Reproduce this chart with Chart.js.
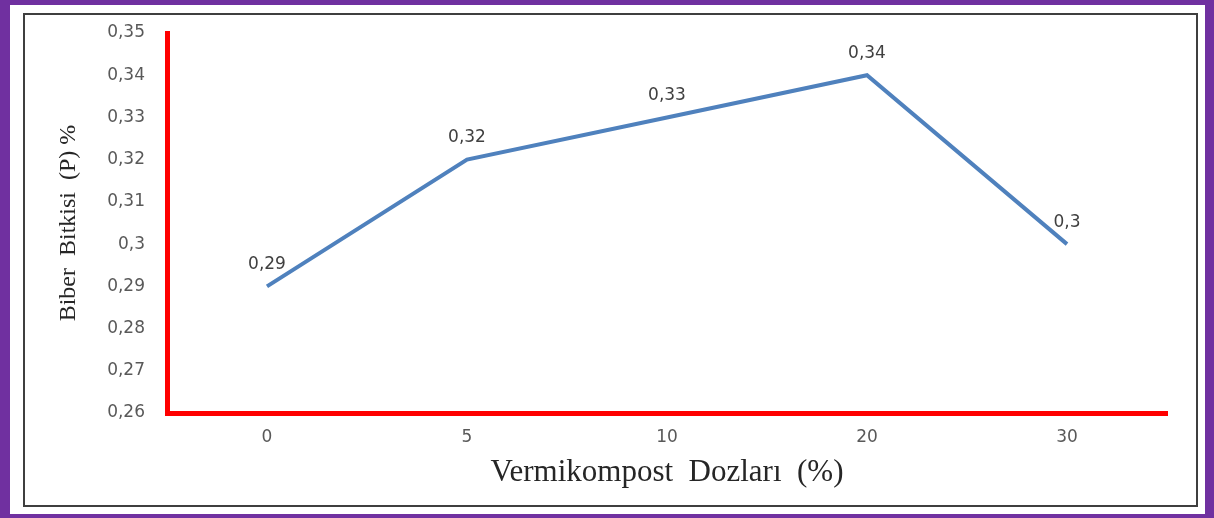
<!DOCTYPE html>
<html>
<head>
<meta charset="utf-8">
<script src="https://cdn.jsdelivr.net/npm/chart.js@4/dist/chart.umd.min.js"></script>
<style>
  body { margin: 0; background: #fff; }
  #frame { position: absolute; left: 0; top: 0; width: 1214px; height: 518px; box-sizing: border-box;
           border-style: solid; border-color: #7030A0; border-width: 5px 9px 4px 10px; }
  #box { position: absolute; left: 23px; top: 13px; width: 1175px; height: 494px; box-sizing: border-box;
         border: 2px solid #3f3f3f; }
  #chart { position: absolute; left: 0; top: 0; }
</style>
</head>
<body>
<div id="frame"></div>
<div id="box"></div>
<canvas id="chart" width="1214" height="518"></canvas>
<script>
var doses = ["0", "5", "10", "20", "30"];
var phosphorus = [0.29, 0.32, 0.33, 0.34, 0.3];
var yTickLabels = ["0,26", "0,27", "0,28", "0,29", "0,3", "0,31", "0,32", "0,33", "0,34", "0,35"];

var valueLabels = {
  id: "valueLabels",
  afterDatasetsDraw: function(chart) {
    var ctx = chart.ctx;
    var meta = chart.getDatasetMeta(0);
    ctx.save();
    ctx.font = "17px 'DejaVu Sans'";
    ctx.fillStyle = "#404040";
    ctx.textAlign = "center";
    ctx.textBaseline = "middle";
    meta.data.forEach(function(pt, i) {
      ctx.fillText(String(phosphorus[i]).replace(".", ","), pt.x, pt.y - 22);
    });
    ctx.restore();
  }
};

var ctx = document.getElementById("chart").getContext("2d");
new Chart(ctx, {
  type: "line",
  data: {
    labels: doses,
    datasets: [{
      data: phosphorus,
      borderColor: "#4F81BD",
      borderWidth: 4,
      pointRadius: 0,
      tension: 0,
      fill: false
    }]
  },
  options: {
    responsive: false,
    animation: false,
    layout: { padding: { top: 33, right: 47, left: 0, bottom: 0 } },
    plugins: { legend: { display: false }, tooltip: { enabled: false } },
    scales: {
      x: {
        offset: true,
        grid: { display: false, drawTicks: false },
        border: { display: true, color: "#ff0000", width: 5 },
        ticks: { color: "#595959", font: { family: "DejaVu Sans", size: 17 }, padding: 14 },
        title: {
          display: true,
          text: "Vermikompost  Dozları  (%)",
          color: "#262626",
          font: { family: "Liberation Serif", size: 31, lineHeight: 1.2 },
          padding: { top: 0, bottom: 27 }
        },
        afterFit: function(scale) { scale.height = 105; }
      },
      y: {
        min: 0.26,
        max: 0.35,
        grid: { display: false, drawTicks: false },
        border: { display: true, color: "#ff0000", width: 5 },
        ticks: {
          stepSize: 0.01,
          color: "#595959",
          font: { family: "DejaVu Sans", size: 17 },
          padding: 22,
          callback: function(value, index) { return yTickLabels[index]; }
        },
        title: {
          display: true,
          text: "Biber  Bitkisi  (P) %",
          color: "#262626",
          font: { family: "Liberation Serif", size: 24, lineHeight: 1.2 },
          padding: { top: 54, bottom: 0 }
        },
        afterFit: function(scale) { scale.width = 167; }
      }
    }
  },
  plugins: [valueLabels]
});
</script>
</body>
</html>
